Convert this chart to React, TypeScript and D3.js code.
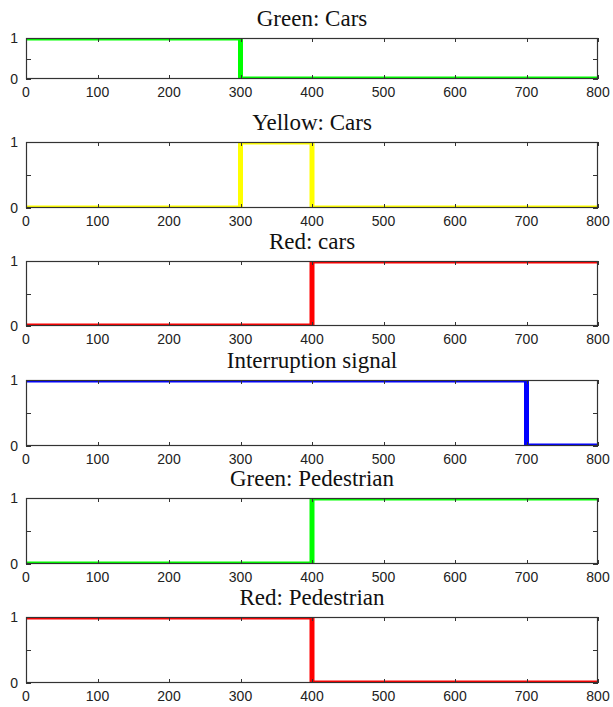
import React from "react";
import * as d3 from "d3";

// ---- data (time, value) breakpoints for each signal ----
const timeTicks = [0, 100, 200, 300, 400, 500, 600, 700, 800];
const levelTicks = [0, 0.5, 1];
const levelLabels = ["0", "", "1"];

const titles = [
  "Green: Cars",
  "Yellow: Cars",
  "Red: cars",
  "Interruption signal",
  "Green: Pedestrian",
  "Red: Pedestrian",
];
const colors = ["#00ff00", "#ffff00", "#ff0000", "#0000ff", "#00ff00", "#ff0000"];

const greenCars: [number, number][] = [[0, 1], [300, 1], [300, 0], [800, 0]];
const yellowCars: [number, number][] = [[0, 0], [300, 0], [300, 1], [400, 1], [400, 0], [800, 0]];
const redCars: [number, number][] = [[0, 0], [400, 0], [400, 1], [800, 1]];
const interruption: [number, number][] = [[0, 1], [700, 1], [700, 0], [800, 0]];
const greenPed: [number, number][] = [[0, 0], [400, 0], [400, 1], [800, 1]];
const redPed: [number, number][] = [[0, 1], [400, 1], [400, 0], [800, 0]];
const series = [greenCars, yellowCars, redCars, interruption, greenPed, redPed];

// ---- layout ----
const W = 613;
const H = 707;
const left = 26;
const right = 598;
const panelTops = [38, 142, 261, 380, 498, 617];
const panelBottoms = [79, 208, 326, 446, 564, 683];

export default function App() {
  const x = d3.scaleLinear().domain([0, 800]).range([left, right]);
  return (
    <svg
      width={W}
      height={H}
      style={{ position: "absolute", left: 0, top: 0, background: "#fff" }}
    >
      <rect x={0} y={0} width={W} height={H} fill="#fff" />
      {series.map((data, i) => {
        const top = panelTops[i];
        const bottom = panelBottoms[i];
        const y = d3.scaleLinear().domain([0, 1]).range([bottom, top]);
        const line = d3
          .line<[number, number]>()
          .x((d) => x(d[0]))
          .y((d) => y(d[1]));
        const clipId = `clip${i}`;
        return (
          <g key={i}>
            <defs>
              <clipPath id={clipId}>
                <rect x={left} y={top} width={right - left} height={bottom - top} />
              </clipPath>
            </defs>
            <text
              x={(left + right) / 2}
              y={top - 12.5}
              textAnchor="middle"
              fontFamily="'Liberation Serif', 'Times New Roman', serif"
              fontSize={23}
              fill="#111"
            >
              {titles[i]}
            </text>
            <path
              d={line(data) || ""}
              fill="none"
              stroke={colors[i]}
              strokeWidth={5}
              strokeLinejoin="miter"
              clipPath={`url(#${clipId})`}
            />
            <rect
              x={left + 0.5}
              y={top + 0.5}
              width={right - left - 1}
              height={bottom - top - 1}
              fill="none"
              stroke="#333"
              strokeWidth={1.2}
            />
            {timeTicks.map((t) => (
              <g key={t}>
                <line x1={Math.round(x(t)) + 0.5} x2={Math.round(x(t)) + 0.5} y1={bottom} y2={bottom - 4} stroke="#333" />
                <line x1={Math.round(x(t)) + 0.5} x2={Math.round(x(t)) + 0.5} y1={top} y2={top + 4} stroke="#333" />
                <text
                  x={x(t)}
                  y={bottom + 18}
                  textAnchor="middle"
                  fontFamily="'Liberation Sans', Arial, sans-serif"
                  fontSize={14}
                  fill="#222"
                >
                  {t}
                </text>
              </g>
            ))}
            {levelTicks.map((v, k) => (
              <g key={v}>
                <line x1={left} x2={left + 5} y1={Math.round(y(v)) + 0.5} y2={Math.round(y(v)) + 0.5} stroke="#333" />
                <line x1={right - 5} x2={right} y1={Math.round(y(v)) + 0.5} y2={Math.round(y(v)) + 0.5} stroke="#333" />
                {levelLabels[k] && (
                  <text
                    x={left - 8}
                    y={y(v) + 5}
                    textAnchor="end"
                    fontFamily="'Liberation Sans', Arial, sans-serif"
                    fontSize={14}
                    fill="#222"
                  >
                    {levelLabels[k]}
                  </text>
                )}
              </g>
            ))}
          </g>
        );
      })}
    </svg>
  );
}
